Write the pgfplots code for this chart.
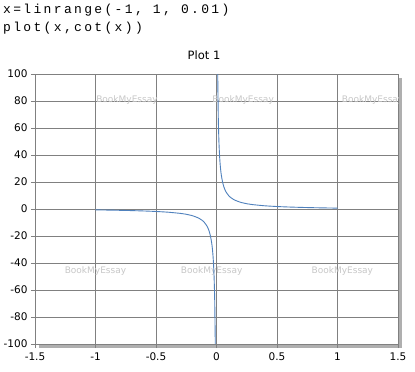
\documentclass[border=0pt]{standalone}
\usepackage{pgfplots}
\pgfplotsset{compat=1.18}
\usepackage{fontspec}
\setmainfont{DejaVu Sans}
\newfontfamily\codefont[LetterSpace=18]{Liberation Mono}
\definecolor{curve}{RGB}{79,129,189}
\definecolor{gridc}{RGB}{128,128,128}
\definecolor{wm}{RGB}{200,200,200}
\definecolor{shadow}{RGB}{175,175,175}
\begin{document}
\begin{tikzpicture}[x=1pt,y=1pt]
\useasboundingbox (0,0) rectangle (415,372);
\fill[shadow] (39,24) rectangle (402,294);
\node[anchor=west,inner sep=0pt,font=\codefont\fontsize{13}{15}\selectfont] at (3,362) {x=linrange(-1, 1, 0.01)};
\node[anchor=west,inner sep=0pt,font=\codefont\fontsize{13}{15}\selectfont] at (3,344) {plot(x,cot(x))};
\node[font=\fontsize{11.5}{13}\selectfont] at (204,317) {Plot 1};
\begin{axis}[
  at={(35pt,28pt)}, anchor=south west,
  scale only axis, width=363pt, height=270pt,
  xmin=-1.5, xmax=1.5, ymin=-100, ymax=100,
  xtick={-1.5,-1,-0.5,0,0.5,1,1.5},
  ytick={-100,-80,-60,-40,-20,0,20,40,60,80,100},
  grid=major,
  grid style={gridc, line width=0.8pt},
  axis line style={gridc, line width=0.8pt},
  tick style={gridc, line width=0.8pt},
  tick align=outside, major tick length=4pt,
  xtick pos=bottom, ytick pos=left,
  axis background/.style={fill=white},
  ticklabel style={font=\fontsize{10.5}{12}\selectfont},
  /pgf/number format/assume math mode=true,
  xticklabel style={yshift=-1pt},
  yticklabel style={xshift=0pt},
  clip=true,
]
\node[wm,font=\fontsize{9}{10}\selectfont] at (axis cs:-0.74,80.5) {BookMyEssay};
\node[wm,font=\fontsize{9}{10}\selectfont] at (axis cs:0.22,80.5) {BookMyEssay};
\node[wm,font=\fontsize{9}{10}\selectfont] at (axis cs:1.29,80.5) {BookMyEssay};
\node[wm,font=\fontsize{9}{10}\selectfont] at (axis cs:-1.0,-46) {BookMyEssay};
\node[wm,font=\fontsize{9}{10}\selectfont] at (axis cs:-0.04,-46) {BookMyEssay};
\node[wm,font=\fontsize{9}{10}\selectfont] at (axis cs:1.04,-46) {BookMyEssay};
\addplot[curve, line width=0.9pt, smooth, tension=0.3] coordinates {
(-1.0,-0.6421) (-0.9,-0.7936) (-0.8,-0.9712) (-0.7,-1.1872) (-0.6,-1.4617)
(-0.5,-1.8305) (-0.4,-2.3652) (-0.3,-3.2327) (-0.25,-3.9163) (-0.2,-4.9332)
(-0.15,-6.6166) (-0.12,-8.2933) (-0.1,-9.9666) (-0.08,-12.4733) (-0.07,-14.2624)
(-0.06,-16.6467) (-0.05,-19.9833) (-0.04,-24.9867) (-0.035,-28.5598) (-0.03,-33.3233)
(-0.025,-39.9917) (-0.02,-49.9933) (-0.015,-66.6617) (-0.01,-99.9967)
};
\addplot[curve, line width=0.9pt, smooth, tension=0.3] coordinates {
(0.01,99.9967) (0.015,66.6617) (0.02,49.9933) (0.025,39.9917) (0.03,33.3233)
(0.035,28.5598) (0.04,24.9867) (0.05,19.9833) (0.06,16.6467) (0.07,14.2624)
(0.08,12.4733) (0.1,9.9666) (0.12,8.2933) (0.15,6.6166) (0.2,4.9332)
(0.25,3.9163) (0.3,3.2327) (0.4,2.3652) (0.5,1.8305) (0.6,1.4617)
(0.7,1.1872) (0.8,0.9712) (0.9,0.7936) (1.0,0.6421)
};
\end{axis}
\end{tikzpicture}
\end{document}
